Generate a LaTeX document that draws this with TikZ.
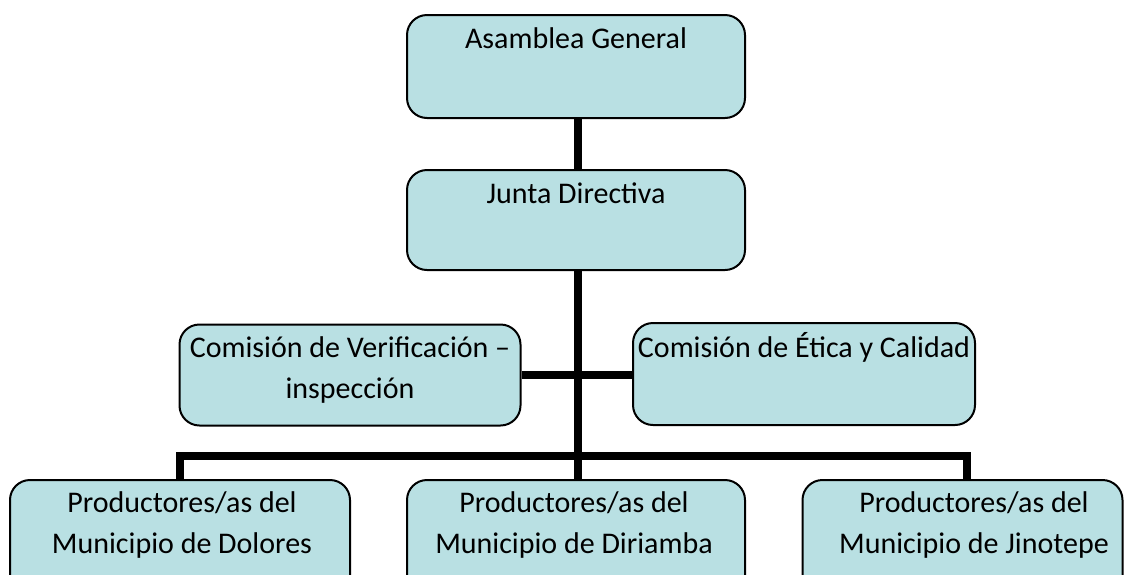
\documentclass[tikz,border=0pt]{standalone}
\usepackage{fontspec}
\setmainfont{Carlito}
\definecolor{boxfill}{HTML}{B9E0E3}
\begin{document}
\begin{tikzpicture}[x=1pt,y=-1pt,
 box/.style={draw=black, line width=2pt, fill=boxfill, rounded corners=20pt, inner sep=0pt},
 lbl/.style={anchor=base, font=\fontsize{30}{41}\selectfont, inner sep=0pt, align=center},
 conn/.style={line width=8pt}]
\fill[white] (0,0) rectangle (1132,574);
\coordinate (bus) at (578,456);
\node[box, minimum width=338pt, minimum height=103pt] (ag) at (576,66.5) {};
\node[box, minimum width=338pt, minimum height=100pt] (jd) at (576,220) {};
\node[box, minimum width=341pt, minimum height=101pt] (ver) at (350,375) {};
\node[box, minimum width=342pt, minimum height=102pt] (eti) at (804,374) {};
\begin{scope}
\clip (0,0) rectangle (1132,574);
\node[box, minimum width=340pt, minimum height=120pt] (dol) at (180,540) {};
\node[box, minimum width=338pt, minimum height=120pt] (dir) at (576,540) {};
\node[box, minimum width=320pt, minimum height=120pt] (jin) at (962.5,540) {};
\end{scope}
\draw[conn] (ag.south -| 578,0) -- (jd.north -| 578,0);
\draw[conn] (jd.south -| 578,0) -- (dir.north -| 578,0);
\draw[conn] (ver.east) -- (ver.east -| eti.west);
\draw[conn] (dol.north) |- (bus) -| (jin.north -| 967,0);
\node[lbl] (tag) at (576,48) {Asamblea General};
\node[lbl] (tjd) at (576,203) {Junta Directiva};
\node[lbl] (tver) at (350,398) {Comisión de Verificación –\\inspección};
\node[lbl] (teti) at (804,357) {Comisión de Ética y Calidad};
\node[lbl] (tdol) at (182,553) {Productores/as del\\Municipio de Dolores};
\node[lbl] (tdir) at (574,553) {Productores/as del\\Municipio de Diriamba};
\node[lbl] (tjin) at (974,553) {Productores/as del\\Municipio de Jinotepe};
\pgfresetboundingbox
\useasboundingbox (0,0) rectangle (1132,574);
\end{tikzpicture}
\end{document}
